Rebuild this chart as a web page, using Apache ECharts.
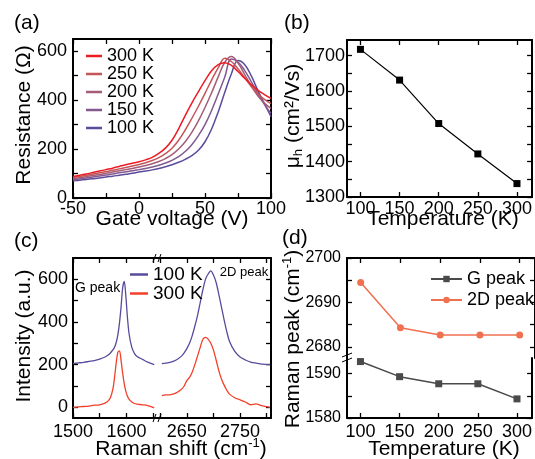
<!DOCTYPE html>
<html>
<head>
<meta charset="utf-8">
<script src="https://cdn.jsdelivr.net/npm/echarts@6.0.0/dist/echarts.min.js"></script>
<style>
  html, body { margin: 0; padding: 0; background: #fff; }
  #chart { width: 535px; height: 459px; }
</style>
</head>
<body>
<div id="chart"></div>
<script>
// (a) resistance vs gate voltage, one curve per temperature
const gateVoltage = [-50, -45, -40, -35, -30, -25, -20, -15, -10, -5, 0, 5, 10, 15, 20, 25, 30, 35, 40, 45, 50, 55, 60, 65, 70, 75, 80, 85, 90, 95, 100]
const res300K = [88, 93, 98, 104, 110, 116, 122, 129, 136, 142, 148, 156, 166, 182, 204, 236, 283, 337, 388, 435, 480, 520, 545, 553, 542, 517, 490, 464, 441, 423, 407]
const res250K = [84, 88, 93, 98, 103, 108, 113, 119, 125, 131, 137, 144, 153, 165, 181, 203, 236, 278, 325, 375, 428, 482, 532, 571, 558, 528, 492, 456, 426, 403, 386]
const res200K = [79, 83, 87, 92, 96, 101, 106, 111, 116, 121, 127, 133, 140, 149, 161, 177, 200, 230, 268, 315, 370, 430, 495, 555, 578, 552, 505, 458, 418, 388, 366]
const res150K = [74, 78, 82, 86, 90, 94, 98, 103, 107, 111, 116, 121, 127, 134, 143, 154, 169, 190, 218, 255, 300, 358, 425, 495, 568, 556, 522, 476, 428, 383, 346]
const res100K = [70, 73, 76, 79, 82, 86, 89, 93, 97, 101, 106, 110, 115, 121, 128, 136, 146, 158, 173, 195, 230, 282, 352, 432, 508, 562, 546, 500, 440, 386, 332]
const resNames = ['300 K', '250 K', '200 K', '150 K', '100 K']
const resColors = ['#ed1c24', '#c4565a', '#a35d78', '#83598f', '#5b4b9c']

// (b) hole mobility vs temperature
const temperature = [100, 150, 200, 250, 300]
const mobility = [1718, 1631, 1508, 1422, 1338]

// (c) Raman spectra, G band and 2D band
const gShift = [1500, 1510, 1520, 1530, 1540, 1550, 1560, 1565, 1570, 1575, 1578, 1581, 1584, 1587, 1590, 1593, 1596, 1599, 1602, 1605, 1610, 1615, 1620, 1630, 1640, 1652]
const gInt100K = [205, 208, 211, 215, 219, 226, 236, 244, 255, 270, 283, 305, 340, 395, 470, 560, 590, 520, 420, 345, 282, 253, 238, 225, 212, 200]
const gInt300K = [0, 2, 4, 6, 10, 12, 20, 28, 45, 90, 145, 210, 258, 265, 220, 160, 110, 75, 52, 38, 25, 18, 15, 12, 8, -3]
const dShift = [2603, 2610, 2620, 2630, 2640, 2645, 2650, 2655, 2660, 2665, 2670, 2675, 2680, 2685, 2690, 2695, 2700, 2705, 2710, 2715, 2720, 2725, 2730, 2740, 2750, 2760, 2770, 2780, 2790, 2800, 2806]
const dInt100K = [205, 207, 212, 222, 240, 255, 275, 300, 335, 380, 430, 490, 550, 600, 625, 640, 620, 585, 530, 470, 410, 355, 310, 262, 236, 222, 212, 207, 203, 200, 200]
const dInt300K = [55, 58, 60, 68, 85, 100, 125, 140, 165, 200, 240, 280, 318, 328, 320, 300, 268, 222, 172, 133, 104, 80, 62, 45, 35, 25, 12, 16, 8, 3, 0]

// (d) Raman peak positions vs temperature
const gPeak = [1592.7, 1589.3, 1587.7, 1587.7, 1584.3]
const dPeak = [2694.5, 2684.3, 2682.7, 2682.7, 2682.7]

// tick positions
const resTicksX = [-50, -25, 0, 25, 50, 75, 100]
const resLabelsX = [-50, 0, 50, 100]
const resTicksY = [0, 100, 200, 300, 400, 500, 600]
const resLabelsY = [0, 200, 400, 600]
const tempTicks = [100, 150, 200, 250, 300]
const mobTicks = [1300, 1350, 1400, 1450, 1500, 1550, 1600, 1650, 1700]
const mobLabels = [1300, 1400, 1500, 1600, 1700]
const gTicksX = [1500, 1550, 1600, 1650]
const gLabelsX = [1500, 1600]
const dTicksX = [2600, 2650, 2700, 2750, 2800]
const dLabelsX = [2650, 2750]
const intTicks = [0, 100, 200, 300, 400, 500, 600]
const intLabels = [0, 200, 400, 600]
const dPeakTicks = [2680, 2685, 2690, 2695, 2700]
const dPeakLabels = [2680, 2690, 2700]
const gPeakTicks = [1580, 1585, 1590]
const gPeakLabels = [1580, 1590]

const FONT = 'Liberation Sans'
const zip = (xs, ys) => xs.map((x, i) => [x, ys[i]])

function axis(gridIndex, position, min, max, tickValues, labelValues, label) {
  return {
    type: 'value',
    gridIndex,
    position,
    min,
    max,
    axisLine: { show: true, onZero: false, lineStyle: { color: '#000', width: 2 } },
    axisTick: { show: true, inside: true, length: 5, customValues: tickValues, lineStyle: { color: '#000', width: 1.3 } },
    axisLabel: labelValues
      ? Object.assign({ show: true, customValues: labelValues, formatter: v => String(v), color: '#000', fontFamily: FONT, fontSize: 18, margin: 4 }, label)
      : { show: false },
    splitLine: { show: false }
  }
}

function text(x, y, str, size, extra) {
  return {
    type: 'text',
    x,
    y,
    z: 100,
    style: Object.assign({ text: str, fontSize: size, fontFamily: FONT, fill: '#000', align: 'left', verticalAlign: 'middle' }, extra)
  }
}

function vText(x, y, str, rich) {
  return {
    type: 'text',
    x,
    y,
    rotation: Math.PI / 2,
    z: 100,
    style: { text: str, fontSize: 21, fontFamily: FONT, fill: '#000', align: 'center', verticalAlign: 'middle', rich }
  }
}

const richSup = {
  t: { fontSize: 21, fontFamily: FONT, lineHeight: 24 },
  p: { fontSize: 13, fontFamily: FONT, verticalAlign: 'top', lineHeight: 13 },
  s: { fontSize: 13, fontFamily: FONT, verticalAlign: 'bottom', lineHeight: 13 }
}

// little "//" marks over a gap in an axis line
function breakMark(cx, cy, vertical) {
  const gap = { x: cx - 3, y: cy - 3, width: 6, height: 6 }
  const lines = vertical
    ? [[cx - 5, cy - 1, cx + 5, cy - 5], [cx - 5, cy + 4, cx + 5, cy]]
    : [[cx - 4, cy + 4, cx - 1, cy - 4], [cx + 1, cy + 4, cx + 4, cy - 4]]
  return {
    type: 'group',
    z: 100,
    children: [{ type: 'rect', shape: gap, style: { fill: '#fff' } }].concat(
      lines.map(l => ({ type: 'line', shape: { x1: l[0], y1: l[1], x2: l[2], y2: l[3] }, style: { stroke: '#000', lineWidth: 1 } }))
    )
  }
}

const chart = echarts.init(document.getElementById('chart'))

const series = []
const resData = [res300K, res250K, res200K, res150K, res100K]
resNames.forEach((name, i) => {
  series.push({
    name,
    type: 'line',
    xAxisIndex: 0,
    yAxisIndex: 0,
    symbol: 'none',
    smooth: 0.4,
    data: zip(gateVoltage, resData[i]),
    lineStyle: { color: resColors[i], width: 1.5 },
    itemStyle: { color: resColors[i] },
    z: 10 - i
  })
})
series.push({
  name: 'mobility',
  type: 'line',
  xAxisIndex: 2,
  yAxisIndex: 2,
  symbol: 'rect',
  symbolSize: 7,
  data: zip(temperature, mobility),
  lineStyle: { color: '#000', width: 1.2 },
  itemStyle: { color: '#000' }
})
const c100 = '#5a4a9c'
const c300 = '#f2402a'
const spectra = [
  ['Raman 100 K', 4, 4, gShift, gInt100K, c100],
  ['Raman 300 K', 4, 4, gShift, gInt300K, c300],
  ['Raman 100 K', 6, 5, dShift, dInt100K, c100],
  ['Raman 300 K', 6, 5, dShift, dInt300K, c300]
]
spectra.forEach(s => {
  series.push({
    name: s[0],
    type: 'line',
    xAxisIndex: s[1],
    yAxisIndex: s[2],
    symbol: 'none',
    smooth: 0.3,
    data: zip(s[3], s[4]),
    lineStyle: { color: s[5], width: 1.3 },
    itemStyle: { color: s[5] }
  })
})
series.push({
  name: 'G peak',
  type: 'line',
  xAxisIndex: 9,
  yAxisIndex: 8,
  symbol: 'rect',
  symbolSize: 7,
  data: zip(temperature, gPeak),
  lineStyle: { color: '#4a4a4a', width: 1.5 },
  itemStyle: { color: '#4a4a4a' }
})
series.push({
  name: '2D peak',
  type: 'line',
  xAxisIndex: 8,
  yAxisIndex: 6,
  symbol: 'circle',
  symbolSize: 7,
  data: zip(temperature, dPeak),
  lineStyle: { color: '#f07050', width: 1.5 },
  itemStyle: { color: '#f07050' }
})

const option = {
  animation: false,
  backgroundColor: '#fff',
  grid: [
    { left: 73, top: 39, width: 198, height: 159 },
    { left: 347, top: 40, width: 188, height: 157 },
    { left: 73, top: 258, width: 84, height: 160 },
    { left: 157, top: 258, width: 114, height: 160 },
    { left: 347, top: 258, width: 188, height: 100 },
    { left: 347, top: 358, width: 188, height: 60 }
  ],
  xAxis: [
    axis(0, 'bottom', -50, 100, resTicksX, resLabelsX, { margin: 2 }),
    axis(0, 'top', -50, 100, resTicksX),
    axis(1, 'bottom', 82.8, 319.3, tempTicks, tempTicks, { margin: 3 }),
    axis(1, 'top', 82.8, 319.3, tempTicks),
    axis(2, 'bottom', 1500, 1657.3, gTicksX, gLabelsX, { margin: 5 }),
    axis(2, 'top', 1500, 1657.3, gTicksX),
    axis(3, 'bottom', 2594, 2808, dTicksX, dLabelsX, { margin: 5 }),
    axis(3, 'top', 2594, 2808, dTicksX),
    axis(4, 'top', 82.8, 319.3, tempTicks),
    axis(5, 'bottom', 82.8, 319.3, tempTicks, tempTicks, { margin: 5 })
  ],
  yAxis: [
    axis(0, 'left', 0, 650, resTicksY, resLabelsY, { margin: 6 }),
    axis(0, 'right', 0, 650, resTicksY),
    axis(1, 'left', 1300, 1744.5, mobTicks, mobLabels, { margin: 2 }),
    axis(1, 'right', 1300, 1744.5, mobTicks),
    axis(2, 'left', -50, 700, intTicks, intLabels, { margin: 5 }),
    axis(3, 'right', -50, 700, intTicks),
    axis(4, 'left', 2677.5, 2700, dPeakTicks, dPeakLabels, { margin: 6, fontSize: 16 }),
    axis(4, 'right', 2677.5, 2700, dPeakTicks),
    axis(5, 'left', 1580, 1593.5, gPeakTicks, gPeakLabels, { margin: 6, fontSize: 16 }),
    axis(5, 'right', 1580, 1593.5, gPeakTicks)
  ],
  legend: [
    {
      data: resNames,
      orient: 'vertical',
      left: 86,
      top: 47,
      padding: 0,
      icon: 'rect',
      itemWidth: 16,
      itemHeight: 2.5,
      itemGap: 0,
      selectedMode: false,
      textStyle: { fontSize: 18, fontFamily: FONT, color: '#000', lineHeight: 16.3 }
    },
    {
      data: ['Raman 100 K', 'Raman 300 K'],
      formatter: name => name.replace('Raman ', ''),
      orient: 'vertical',
      left: 130,
      top: 265,
      padding: 0,
      icon: 'rect',
      itemWidth: 18,
      itemHeight: 2.5,
      itemGap: 0,
      selectedMode: false,
      textStyle: { fontSize: 19, fontFamily: FONT, color: '#000', lineHeight: 17.4 }
    },
    {
      data: ['G peak', '2D peak'],
      orient: 'vertical',
      left: 430,
      top: 270,
      padding: 0,
      itemWidth: 31,
      itemHeight: 8,
      itemGap: 3,
      selectedMode: false,
      textStyle: { fontSize: 18, fontFamily: FONT, color: '#000', lineHeight: 17 }
    }
  ],
  graphic: [
    text(14, 23, '(a)', 21),
    text(284, 23, '(b)', 21),
    text(14, 241, '(c)', 21),
    text(282, 238, '(d)', 21),
    text(172, 219, 'Gate voltage (V)', 21, { align: 'center' }),
    text(443, 219, 'Temperature (K)', 21, { align: 'center' }),
    text(181, 449, '{t|Raman shift (cm}{p|-1}{t|)}', 21, { align: 'center', rich: richSup }),
    text(444, 449, 'Temperature (K)', 21, { align: 'center' }),
    vText(24, 115, 'Resistance (Ω)'),
    vText(293, 116, '{t|μ}{s|h}{t| (cm²/Vs)}', richSup),
    vText(24, 336, 'Intensity (a.u.)'),
    vText(293, 339, '{t|Raman peak (cm}{p|-1}{t|)}', richSup),
    text(75, 288, 'G peak', 14),
    text(244, 272, '2D peak', 13, { align: 'center' }),
    breakMark(157, 258, false),
    breakMark(157, 418, false),
    breakMark(347, 358, true)
  ],
  series
}

chart.setOption(option)
</script>
</body>
</html>
